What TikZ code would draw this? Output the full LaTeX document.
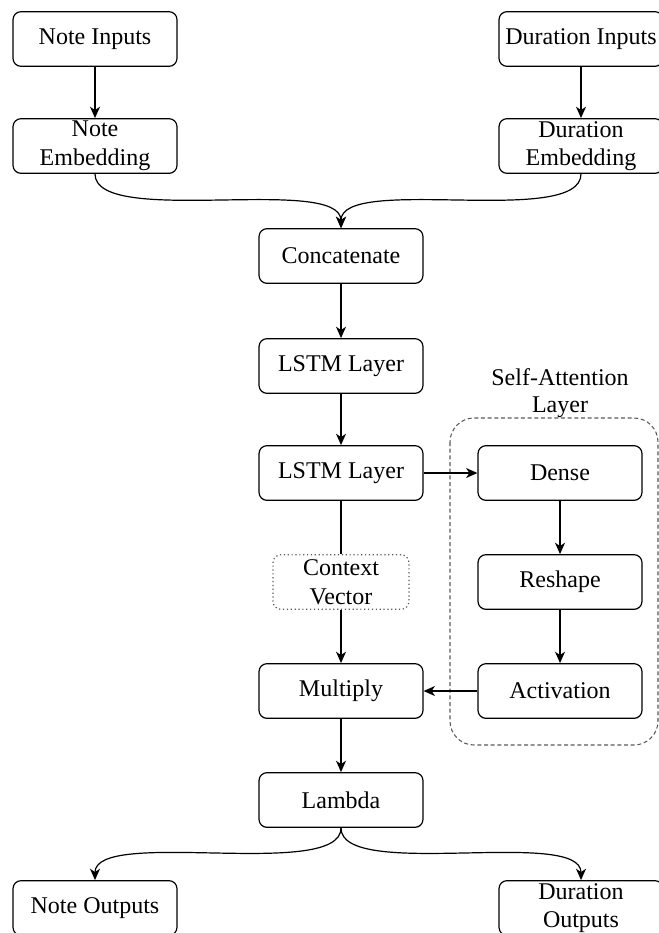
\documentclass[tikz,border=0pt]{standalone}
\usepackage{fontspec}
\setmainfont{Liberation Serif}
\usetikzlibrary{arrows.meta}
\begin{document}
\begin{tikzpicture}[x=0.75pt,y=-0.75pt,
		blk/.style={draw,rounded corners=6pt,line width=0.9pt,minimum width=123pt,minimum height=41pt,inner sep=1pt,align=center,font=\fontsize{18}{21.5}\selectfont},
		arr/.style={-{Stealth[length=8.5pt,width=7.5pt,inset=2.5pt]},line width=0.9pt}]
	\clip (0,0) rectangle (659,933);
	% inputs and embeddings
	\node[blk] (ni) at (95,39) {Note Inputs};
	\node[blk] (di) at (581,39) {Duration Inputs};
	\node[blk] (ne) at (95,146) {Note\\Embedding};
	\node[blk] (de) at (581,146) {Duration\\Embedding};
	% main column
	\node[blk] (cc) at (341,256) {Concatenate};
	\node[blk] (l1) at (341,366) {LSTM Layer};
	\node[blk] (l2) at (341,473) {LSTM Layer};
	\node[blk,draw=gray!70!black,dotted,minimum width=102pt] (cv) at (341,582) {Context\\Vector};
	\node[blk] (mu) at (341,691) {Multiply};
	\node[blk] (la) at (341,800) {Lambda};
	% attention block
	\draw[dashed,dash pattern=on 3pt off 2pt,rounded corners=18pt,gray!70!black,line width=0.8pt] (450,418) rectangle (658,745);
	\node[align=center,font=\fontsize{18}{20}\selectfont] (sa) at (560,393) {Self-Attention\\Layer};
	\node[blk] (dn) at (560,473) {Dense};
	\node[blk] (rs) at (560,582) {Reshape};
	\node[blk] (ac) at (560,691) {Activation};
	% outputs
	\node[blk] (no) at (95,908) {Note Outputs};
	\node[blk] (do) at (581,908) {Duration\\Outputs};
	% connectors
	\draw[arr] (ni) -- (ne);
	\draw[arr] (di) -- (de);
	\draw[arr] (ne.south) .. controls +(0,54) and +(0,-54) .. (cc.north);
	\draw[arr] (de.south) .. controls +(0,54) and +(0,-54) .. (cc.north);
	\draw[arr] (cc) -- (l1);
	\draw[arr] (l1) -- (l2);
	\draw[line width=0.9pt] (l2) -- (cv);
	\draw[arr] (cv) -- (mu);
	\draw[arr] (l2) -- (dn);
	\draw[arr] (dn) -- (rs);
	\draw[arr] (rs) -- (ac);
	\draw[arr] (ac) -- (mu);
	\draw[arr] (mu) -- (la);
	\draw[arr] (la.south) .. controls +(0,53) and +(0,-53) .. (no.north);
	\draw[arr] (la.south) .. controls +(0,53) and +(0,-53) .. (do.north);
\end{tikzpicture}
\end{document}
